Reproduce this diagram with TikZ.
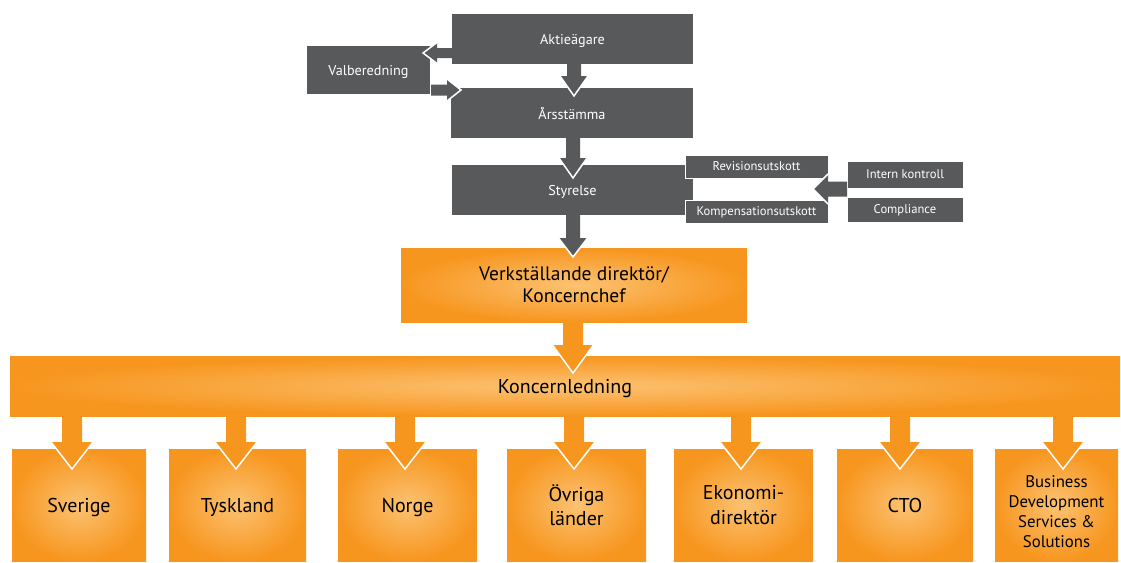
\documentclass[tikz,border=0pt]{standalone}
\usepackage{fontspec}
\setmainfont{PT Sans}
\usetikzlibrary{calc}

\definecolor{dark}{HTML}{58595B}
\definecolor{orange}{HTML}{F7961F}
\definecolor{orlight}{HTML}{FCC272}

% block arrow: colour, start, tip, shaft half width, head half width, head length
\newcommand{\blockarrow}[6]{%
  \coordinate (ba-s) at (#2);
  \coordinate (ba-t) at (#3);
  \coordinate (ba-b) at ($(ba-t)!#6pt!(ba-s)$);
  \fill[#1] ($(ba-s)!#4pt!90:(ba-t)$) -- ($(ba-b)!#4pt!-90:(ba-s)$)
    -- ($(ba-b)!#5pt!-90:(ba-s)$) -- (ba-t) -- ($(ba-b)!#5pt!90:(ba-s)$)
    -- ($(ba-b)!#4pt!90:(ba-s)$) -- ($(ba-s)!#4pt!-90:(ba-t)$) -- cycle;
  \draw[white, line width=1.5pt] ($(ba-b)!#5pt!-90:(ba-s)$) -- (ba-t)
    -- ($(ba-b)!#5pt!90:(ba-s)$);
}

\tikzset{
  greybox/.style={fill=dark, text=white, inner sep=0pt, outer sep=0pt,
    text depth=0pt, font=\fontsize{14.2}{17}\selectfont},
  smallbox/.style={greybox, draw=white, line width=0.6pt,
    font=\fontsize{12.6}{14}\selectfont},
  orangebox/.style={shade, inner color=orlight, outer color=orange,
    inner sep=0pt, outer sep=0pt, align=center, text=black,
    font=\fontsize{20}{22}\selectfont},
}

\begin{document}
\begin{tikzpicture}[x=1pt, y=-1pt]
    \useasboundingbox (0,0) rectangle (1121,562);

    % Owners and board
    \node[greybox, minimum width=241, minimum height=50] (aktie) at (572.5,39) {Aktieägare};
    \node[greybox, minimum width=123, minimum height=48] (valb) at (368.5,70) {Valberedning};
    \node[greybox, minimum width=242, minimum height=50] (arss) at (572,113) {Årsstämma};
    \node[greybox, minimum width=241, minimum height=50] (styr) at (572.5,190) {Styrelse};

    % Committees
    \node[smallbox, minimum width=143, minimum height=23] (revis) at (756.5,166.5) {Revisionsutskott};
    \node[smallbox, minimum width=143, minimum height=23] (komp) at (756.5,211.5) {Kompensationsutskott};
    \node[smallbox, minimum width=116, minimum height=27] (intern) at (905,174.5) {Intern kontroll};
    \node[smallbox, minimum width=116, minimum height=25] (compl) at (905,209.5) {Compliance};

    % Management
    \node[orangebox, minimum width=346, minimum height=74, font=\fontsize{19.5}{22}\selectfont] (vd) at (574,285) {Verkställande direktör/\\Koncernchef};
    \node[orangebox, minimum width=1110, minimum height=60, text depth=0pt] (kl) at (565,386) {Koncernledning};

    % Units
    \node[orangebox, minimum width=134, minimum height=112, text depth=0pt] (sverige) at (79,505) {Sverige};
    \node[orangebox, minimum width=137, minimum height=112, text depth=0pt] (tyskland) at (237.5,505) {Tyskland};
    \node[orangebox, minimum width=139, minimum height=112, text depth=0pt] (norge) at (407.5,505) {Norge};
    \node[orangebox, minimum width=139, minimum height=112, font=\fontsize{20}{24}\selectfont] (ovriga) at (576.5,505) {Övriga\\länder};
    \node[orangebox, minimum width=139, minimum height=112, font=\fontsize{20}{25}\selectfont] (ekonomi) at (743.5,505) {Ekonomi-\\direktör};
    \node[orangebox, minimum width=136, minimum height=112, text depth=0pt] (cto) at (905,505) {CTO};
    \node[orangebox, minimum width=123, minimum height=112, font=\fontsize{16.8}{20}\selectfont] (bdss) at (1056.5,505)
      {\raisebox{-8pt}[\height][\depth]{\begin{tabular}{@{}c@{}}Business\\Development\\Services \&\\Solutions\end{tabular}}};

    % Grey arrows
    \blockarrow{dark}{$(aktie.west)+(0,14)$}{$(valb.east)+(-7,-17)$}{5}{10.5}{14}
    \blockarrow{dark}{$(valb.east)+(1,20)$}{$(arss.west)+(10,-23)$}{5.5}{11}{14}
    \blockarrow{dark}{$(aktie.south)+(1.5,0)$}{$(arss.north)+(2,8)$}{7}{14}{20}
    \blockarrow{dark}{$(arss.south)+(1,0)$}{$(styr.north)+(0.5,13)$}{7}{14}{20}
    \blockarrow{dark}{$(intern.south west)+(0,1)$}{$($(revis.east)!0.5!(komp.east)$)+(-15,0)$}{7.5}{15}{15}
    \blockarrow{dark}{$(styr.south)+(0.5,0)$}{$(vd.north)+(-1,9)$}{7}{14.5}{19}

    % Orange arrows
    \blockarrow{orange}{$(vd.south)+(-1,0)$}{$(kl.north)+(8,17)$}{10}{20.5}{28}
    \foreach \nm/\dx in {sverige/-7, tyskland/-1.5, norge/-2.5, ovriga/-2.5, ekonomi/-2.5, cto/-5, bdss/6.5}
      \blockarrow{orange}{$(\nm.north |- kl.south)+(\dx,0)$}{$(\nm.north)+(\dx,20)$}{10}{21}{27};
\end{tikzpicture}
\end{document}
